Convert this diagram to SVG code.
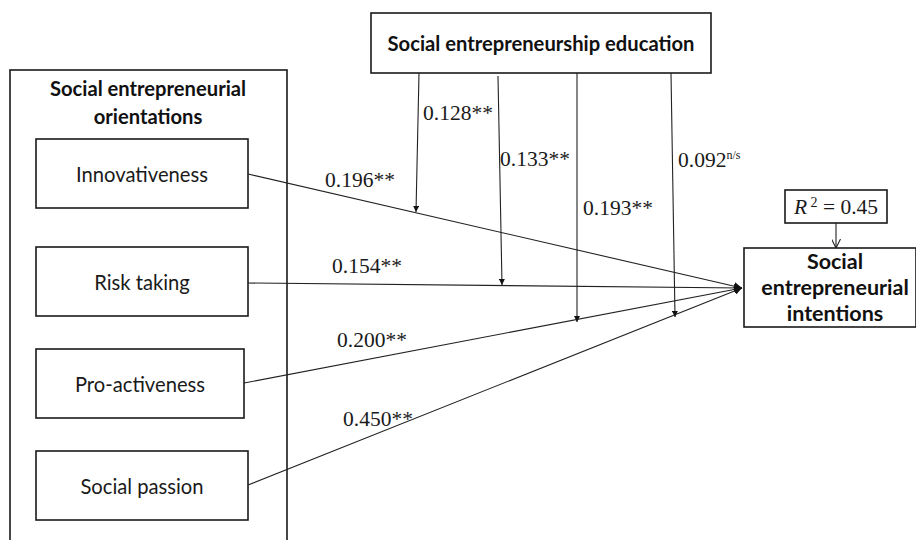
<svg xmlns="http://www.w3.org/2000/svg" width="916" height="540" viewBox="0 0 916 540">
  <style>
    .box { fill: #fff; stroke: #1a1a1a; stroke-width: 1.6; }
    .frame { fill: none; stroke: #1a1a1a; stroke-width: 1.6; }
    .lbl { font-family: Lato, "Open Sans", sans-serif; font-size: 20.2px; fill: #1a1a1a; text-anchor: middle; }
    .hdr { font-family: Lato, "Open Sans", sans-serif; font-size: 20.2px; font-weight: bold; fill: #111; text-anchor: middle; }
    .big { font-size: 21.5px; }
    .coef { font-family: "Liberation Serif", serif; font-size: 21.5px; fill: #1a1a1a; }
    .link { fill: none; stroke: #222; stroke-width: 1.1; }
  </style>
  <defs>
    <marker id="tri" viewBox="0 0 10 10" refX="10" refY="5" markerWidth="6" markerHeight="6" markerUnits="userSpaceOnUse" orient="auto">
      <path d="M0,0 L10,5 L0,10 Z" fill="#111"/>
    </marker>
    <marker id="triBig" viewBox="0 0 10 10" refX="10" refY="5" markerWidth="8" markerHeight="8" markerUnits="userSpaceOnUse" orient="auto">
      <path d="M0,0 L10,5 L0,10 Z" fill="#111"/>
    </marker>
    <marker id="vee" viewBox="0 0 10 10" refX="10" refY="5" markerWidth="9" markerHeight="9" markerUnits="userSpaceOnUse" orient="auto">
      <path d="M0,0 L10,5 L0,10" fill="none" stroke="#222" stroke-width="1.2"/>
    </marker>
  </defs>

  <rect width="916" height="540" fill="#fff"/>

  <!-- orientation group frame -->
  <g id="orientations">
    <rect class="frame" x="10" y="70" width="277" height="480"/>
    <text class="hdr" x="148" y="96">Social entrepreneurial</text>
    <text class="hdr" x="148" y="124">orientations</text>
  </g>

  <g id="innovativeness">
    <rect class="box" x="36" y="139" width="212" height="69"/>
    <text class="lbl" x="142" y="182">Innovativeness</text>
  </g>
  <g id="risk-taking">
    <rect class="box" x="36" y="247" width="212" height="69"/>
    <text class="lbl" x="142" y="290">Risk taking</text>
  </g>
  <g id="pro-activeness">
    <rect class="box" x="36" y="349" width="208" height="69"/>
    <text class="lbl" x="140" y="392">Pro-activeness</text>
  </g>
  <g id="social-passion">
    <rect class="box" x="36" y="451" width="212" height="69"/>
    <text class="lbl" x="142" y="494">Social passion</text>
  </g>

  <g id="education">
    <rect class="box" x="371" y="13" width="340" height="60"/>
    <text class="hdr" x="541" y="51">Social entrepreneurship education</text>
  </g>

  <g id="r-squared">
    <rect class="box" x="785" y="190" width="102" height="33"/>
    <text class="coef" x="836" y="214" text-anchor="middle" font-size="21.5"><tspan font-style="italic">R</tspan><tspan font-size="14" dy="-7"> 2</tspan><tspan dy="7"> = 0.45</tspan></text>
  </g>

  <g id="intentions">
    <rect class="box" x="744" y="248" width="172" height="79"/>
    <text class="hdr big" x="835" y="269">Social</text>
    <text class="hdr big" x="835" y="295">entrepreneurial</text>
    <text class="hdr big" x="835" y="321">intentions</text>
  </g>

  <!-- connectors -->
  <g id="connectors">
    <line class="link" x1="248" y1="174" x2="742" y2="288" marker-end="url(#triBig)"/>
    <line class="link" x1="248" y1="283" x2="742" y2="288" marker-end="url(#triBig)"/>
    <line class="link" x1="244" y1="383" x2="742" y2="288" marker-end="url(#triBig)"/>
    <line class="link" x1="248" y1="485" x2="742" y2="288" marker-end="url(#triBig)"/>

    <line class="link" x1="419" y1="73" x2="416" y2="212" marker-end="url(#tri)"/>
    <line class="link" x1="498" y1="76" x2="502" y2="285" marker-end="url(#tri)"/>
    <line class="link" x1="577" y1="73" x2="577" y2="322" marker-end="url(#tri)"/>
    <line class="link" x1="671" y1="73" x2="675" y2="317" marker-end="url(#tri)"/>

    <line class="link" x1="836" y1="223" x2="836" y2="248" marker-end="url(#vee)"/>
  </g>

  <!-- path coefficients -->
  <g id="coefficients">
    <text class="coef" x="325" y="187">0.196**</text>
    <text class="coef" x="332" y="273">0.154**</text>
    <text class="coef" x="337" y="347">0.200**</text>
    <text class="coef" x="343" y="426">0.450**</text>
    <text class="coef" x="423" y="120">0.128**</text>
    <text class="coef" x="500" y="166">0.133**</text>
    <text class="coef" x="583" y="215">0.193**</text>
    <text class="coef" x="678" y="167">0.092<tspan font-size="12" dy="-8">n/s</tspan></text>
  </g>
</svg>
